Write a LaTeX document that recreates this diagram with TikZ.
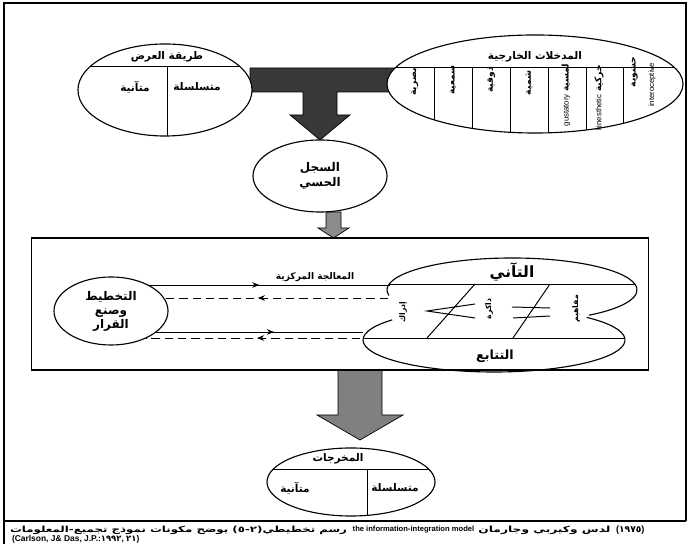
\documentclass[tikz,border=0pt]{standalone}
\usepackage{fontspec}
\setmainfont{Liberation Sans}
\newfontfamily\arfont[Script=Arabic]{DejaVu Sans}
\TeXXeTstate=1
\newcommand{\artext}[1]{{\arfont\beginR #1\endR}}
\newcommand{\ardig}[1]{{\arfont #1}\kern0pt}
\usetikzlibrary{shapes.geometric,arrows.meta,decorations.markings,positioning}

\begin{document}
\begin{tikzpicture}[x=0.025cm, y=0.025cm,
  oval/.style={draw, ellipse, line width=0.8pt, fill=white, inner sep=0pt, outer sep=0pt},
  divider/.style={line width=0.7pt},
  fatarrow/.style={draw=black, line width=0.5pt},
  txt/.style={font=\bfseries\fontsize{7.5}{9}\selectfont, inner sep=1pt},
  bigtxt/.style={font=\bfseries\fontsize{11}{13}\selectfont, inner sep=1pt},
  cell/.style={rotate=90, font=\bfseries\fontsize{6.5}{7}\selectfont, inner sep=0pt},
  captxt/.style={inner sep=0pt, outer sep=0pt, anchor=west, font=\bfseries\fontsize{6}{7}\selectfont},
  flow/.style={line width=0.7pt, postaction={decorate},
    decoration={markings, mark=at position #1 with {\arrow{Stealth[length=5pt,width=4pt]}}}},
  flow/.default=0.5,
  back/.style={flow=#1, dash pattern=on 6pt off 3.5pt}]
\useasboundingbox (0,0) rectangle (690,544);

% frame and caption rule
\draw[line width=0.9pt] (4,0) -- (4,541) -- (686,541) -- (686,23);
\draw[line width=0.9pt] (4,23) -- (686,23);

% fat arrows
\filldraw[fatarrow, fill=black!78] (250,476) -- (395,476) -- (395,452) -- (337,452)
  -- (337,429) -- (350,429) -- (320,404) -- (290,429) -- (303,429) -- (303,452)
  -- (250,452) -- cycle;
\filldraw[fatarrow, fill=black!45] (326,332) -- (341,332) -- (341,316) -- (349,316)
  -- (333.5,306) -- (318,316) -- (326,316) -- cycle;
\filldraw[fatarrow, fill=black!50] (338,174) -- (382,174) -- (382,129) -- (403,129)
  -- (360,104) -- (317,129) -- (338,129) -- cycle;

% presentation mode
\node[oval, minimum width=4.35cm, minimum height=2.3cm] (mode) at (165,454) {};
\begin{scope}
  \clip (165,454) ellipse [x radius=87, y radius=46];
  \draw[divider] (60,477) -- (270,477);
  \draw[divider] (167,477) -- (167,400);
\end{scope}
\node[txt] (modet) at (167,487) {\artext{طريقة العرض}};
\node[txt] (mode1) at (135,457) {\artext{متآنية}};
\node[txt] (mode2) at (197,457) {\artext{متسلسلة}};

% external inputs
\node[oval, minimum width=7.4cm, minimum height=2.45cm] (inputs) at (535,460) {};
\begin{scope}
  \clip (535,460) ellipse [x radius=148, y radius=49];
  \draw[divider] (380,476) -- (690,476);
  \foreach \x in {434,472,510,548,586,623}
    \draw[divider] (\x,476) -- (\x,400);
\end{scope}
\node[txt] (inputst) at (535,487) {\artext{المدخلات الخارجية}};
\node[cell] (vis) at (415,462) {\artext{بصرية}};
\node[cell] (aud) at (453,464) {\artext{سمعية}};
\node[cell] (tas) at (491,464) {\artext{ذوقية}};
\node[cell] (sme) at (529,461) {\artext{شمية}};
\node[cell] (tou) at (566,449) {{\mdseries\fontsize{5.5}{6}\selectfont gustatory} \artext{لمسية}};
\node[cell] (kin) at (599,446) {{\mdseries\fontsize{5.5}{6}\selectfont kinesthetic} \artext{حركية}};
\node[cell] (int) at (634,472) {\artext{حشوية}};
\node[cell, font=\fontsize{5.5}{6}\selectfont] (intl) at (652,459) {interoceptive};

% sensory register
\node[oval, minimum width=3.35cm, minimum height=1.8cm, txt, font=\bfseries\fontsize{8.5}{10.5}\selectfont, align=center]
  (sensory) at (320,368) {\artext{السجل}\\\artext{الحسي}};

% central processing
\node[draw, line width=0.8pt, minimum width=15.4cm, minimum height=3.3cm] (cpu) at (340,240) {};
\node[oval, minimum width=2.85cm, minimum height=1.7cm, txt, font=\bfseries\fontsize{8.5}{10}\selectfont, align=center]
  (plan) at (111,233) {\artext{التخطيط}\\\artext{وصنع}\\\artext{القرار}};

\draw[line width=0.8pt] (512,254) ++(190:125 and 32) arc[start angle=190, end angle=-52, x radius=125, y radius=32];
\draw[line width=0.8pt] (494,204) ++(141:131 and 32) arc[start angle=141, end angle=405, x radius=131, y radius=32];
\begin{scope}
  \clip (512,254) ellipse [x radius=125, y radius=32];
  \draw[divider] (380,260) -- (650,260);
\end{scope}
\begin{scope}
  \clip (494,204) ellipse [x radius=131, y radius=32];
  \draw[divider] (350,206) -- (650,206);
\end{scope}
\draw[divider] (475,260) -- (427,206);
\draw[divider] (550,260) -- (513,206);
\draw[divider] (475,240) -- (427,233) -- (475,226);
\draw[divider] (512,237) -- (550,236);
\draw[divider] (513,226) -- (550,228);
\node[bigtxt] (simul) at (512,272) {\artext{التآني}};
\node[bigtxt, font=\bfseries\fontsize{9}{11}\selectfont] (succ) at (495,188) {\artext{التتابع}};
\node[cell, font=\bfseries\fontsize{5.5}{6}\selectfont] (perc) at (403,232) {\artext{إدراك}};
\node[cell, font=\bfseries\fontsize{5.5}{6}\selectfont] (memo) at (489,235) {\artext{ذاكرة}};
\node[cell, font=\bfseries\fontsize{5.5}{6}\selectfont] (conc) at (576,235) {\artext{مفاهيم}};
\node[txt, font=\bfseries\fontsize{6.5}{8}\selectfont] (cpul) at (315,267) {\artext{المعالجة المركزية}};

\coordinate (s1) at (390,259);
\coordinate (d1) at (388,246);
\coordinate (s2) at (363,212);
\coordinate (d2) at (360,206);
\draw[flow=0.46] (s1 -| plan.35) -- (s1);
\draw[back=0.58] (d1) -- (d1 -| plan.14);
\draw[flow=0.57] (s2 -| plan.-25) -- (s2);
\draw[back=0.48] (d2) -- (d2 -| plan.-38);

% outputs
\node[oval, minimum width=4.2cm, minimum height=1.7cm] (outputs) at (351,62) {};
\begin{scope}
  \clip (351,62) ellipse [x radius=84, y radius=34];
  \draw[divider] (260,75) -- (440,75);
  \draw[divider] (367,75) -- (367,20);
\end{scope}
\node[txt] (outt) at (338,85) {\artext{المخرجات}};
\node[txt] (out1) at (295,56) {\artext{متآنية}};
\node[txt] (out2) at (395,56) {\artext{متسلسلة}};

% caption
\node[captxt] (cap1a) at (10,14)
  {\scalebox{1.4}[1]{\artext{رسم تخطيطي(٢-٥) يوضح مكونات نموذج تجميع-المعلومات}}};
\node[captxt, font=\bfseries\fontsize{5.4}{6}\selectfont, right=4pt of cap1a] (cap1b)
  {the information-integration model};
\node[captxt, right=3pt of cap1b] (cap1c)
  {\scalebox{1.45}[1]{\artext{لدس وكيربي وجارمان}}};
\node[captxt, font=\bfseries\fontsize{6.5}{7}\selectfont, right=4pt of cap1c] (cap1d) {(\ardig{١٩٧٥})};
\node[captxt, font=\bfseries\fontsize{6}{7}\selectfont] (cap2) at (12,5)
  {(Carlson, J\& Das, J.P.:\ardig{١٩٩٢}, \ardig{٢١})};
\end{tikzpicture}
\end{document}
